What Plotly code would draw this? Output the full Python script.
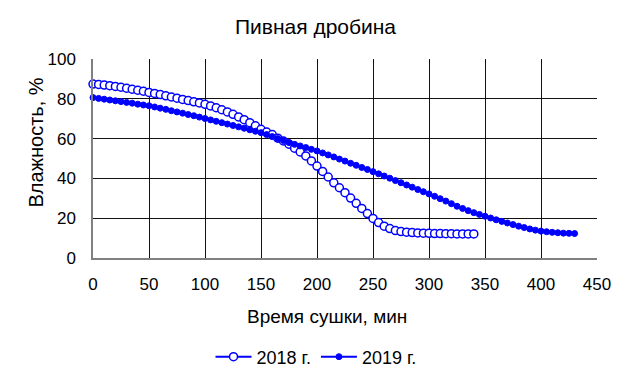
import plotly.graph_objects as go

time_2018 = list(range(0, 345, 5))
moist_2018 = [87.4, 87.2, 86.9, 86.6, 86.2, 85.8, 85.3, 84.8, 84.3, 83.8,
              83.2, 82.7, 82.1, 81.5, 80.9, 80.3, 79.7, 79.1, 78.5, 77.9,
              77.2, 76.4, 75.5, 74.5, 73.4, 72.2, 70.9, 69.5, 68.0, 66.4,
              64.7, 63.3, 62.0, 60.2, 58.8, 57.2, 55.2, 53.3, 51.3, 48.8,
              46.2, 43.5, 40.7, 37.8, 35.3, 32.8, 30.1, 27.5, 24.9, 22.3,
              19.9, 17.8, 16.0, 14.8, 13.8, 13.3, 13.0, 12.8, 12.6, 12.5,
              12.4, 12.3, 12.3, 12.2, 12.2, 12.1, 12.1, 12.1, 12.1]

time_2019 = list(range(0, 435, 5))
moist_2019 = [80.6, 80.2, 79.8, 79.4, 79.0, 78.6, 78.2, 77.8, 77.3, 76.9,
              76.5, 75.9, 75.3, 74.7, 74.0, 73.4, 72.8, 72.1, 71.5, 70.8,
              70.1, 69.4, 68.7, 68.0, 67.3, 66.6, 65.9, 65.2, 64.4, 63.7,
              63.0, 62.0, 61.0, 60.0, 59.0, 58.0, 57.1, 56.3, 55.5, 54.6,
              53.8, 52.8, 51.8, 50.8, 49.7, 48.7, 47.6, 46.6, 45.5, 44.5,
              43.4, 42.3, 41.2, 40.1, 38.9, 37.8, 36.7, 35.6, 34.4, 33.3,
              32.2, 31.0, 29.8, 28.6, 27.3, 26.0, 24.9, 23.8, 22.8, 21.9,
              21.0, 20.1, 19.2, 18.4, 17.6, 16.8, 16.0, 15.3, 14.6, 14.0,
              13.5, 13.2, 12.9, 12.7, 12.5, 12.4, 12.3]

x_ticks = [0, 50, 100, 150, 200, 250, 300, 350, 400, 450]
y_ticks = [0, 20, 40, 60, 80, 100]

title_text = "Пивная дробина"
x_title = "Время сушки, мин"
y_title = "Влажность, %"

BLUE = "#0000FF"
FONT = "Liberation Sans, Arial, sans-serif"

# the page body has an 8px default margin, so layout is shifted by -8px
OFF = 8
PL, PR, PT, PB = 93 - OFF, 597 - OFF, 59 - OFF, 258 - OFF
PW, PH = PR - PL, PB - PT

fig = go.Figure()
fig.add_trace(go.Scatter(
    x=time_2018, y=moist_2018, name="2018 г.", mode="lines+markers",
    line=dict(color=BLUE, width=2),
    marker=dict(symbol="circle", size=8, color="white",
                line=dict(color=BLUE, width=1.5)),
    cliponaxis=False,
))
fig.add_trace(go.Scatter(
    x=time_2019, y=moist_2019, name="2019 г.", mode="lines+markers",
    line=dict(color=BLUE, width=2),
    marker=dict(symbol="circle", size=6, color=BLUE,
                line=dict(color=BLUE, width=1)),
    cliponaxis=False,
))

fig.update_layout(
    template="none",
    width=631, height=378,
    margin=dict(l=PL, r=631 - PR, t=PT, b=378 - PB, autoexpand=False),
    paper_bgcolor="white", plot_bgcolor="white",
    font=dict(family=FONT, size=17, color="black"),
    title=dict(text=title_text, x=(315.5 - OFF) / 631, xref="container",
               xanchor="center",
               y=1 - (27 - OFF) / 378, yref="container", yanchor="middle",
               font=dict(size=21)),
    showlegend=True,
    legend=dict(orientation="h", x=(316 - 93) / 504, xanchor="center",
                y=(258 - 357) / 199, yanchor="middle",
                font=dict(size=18), itemwidth=36, tracegroupgap=0,
                bgcolor="rgba(0,0,0,0)"),
    xaxis=dict(
        range=[0, 450], tickvals=x_ticks, showgrid=True,
        gridcolor="#111111", gridwidth=1, showline=True,
        linecolor="#808080", linewidth=1.5, mirror=False, zeroline=False,
        tickfont=dict(size=17), ticks="outside", ticklen=10,
        tickcolor="rgba(0,0,0,0)", automargin=False,
    ),
    yaxis=dict(
        range=[0, 100], tickvals=y_ticks, showgrid=True,
        gridcolor="#111111", gridwidth=1, showline=True,
        linecolor="#808080", linewidth=1.5, zeroline=False,
        tickfont=dict(size=17), ticks="outside", ticklen=12,
        tickcolor="rgba(0,0,0,0)", automargin=False,
    ),
    annotations=[
        dict(text=x_title, xref="paper", yref="paper",
             x=(327 - 93) / 504, y=(258 - 316) / 199,
             xanchor="center", yanchor="middle", showarrow=False,
             font=dict(size=19)),
        dict(text=y_title, xref="paper", yref="paper", textangle=-90,
             x=(35 - 93) / 504, y=(258 - 142.5) / 199,
             xanchor="center", yanchor="middle", showarrow=False,
             font=dict(size=20)),
    ],
)

fig.write_html("out.html")
